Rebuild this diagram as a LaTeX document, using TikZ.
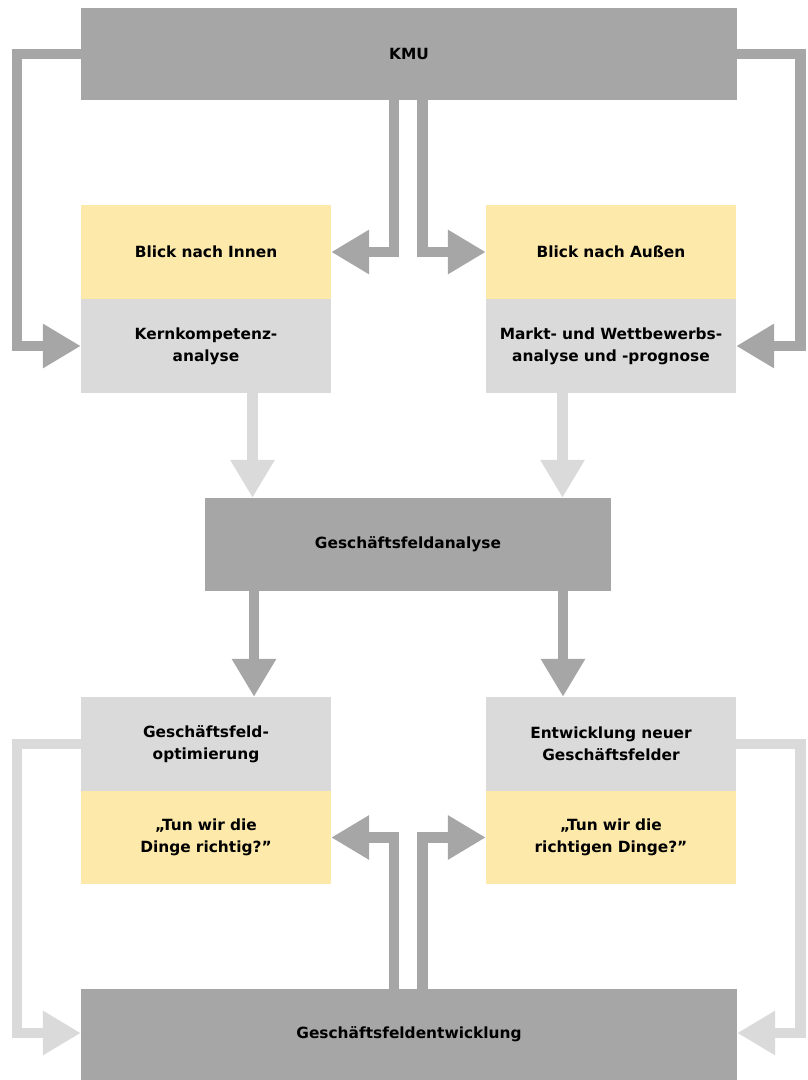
\documentclass[tikz,border=0pt]{standalone}
\usepackage{fontspec}
\setmainfont{DejaVu Sans}
\usetikzlibrary{arrows.meta}
\definecolor{dgray}{HTML}{A6A6A6}
\definecolor{lgray}{HTML}{DADADA}
\definecolor{lyel}{HTML}{FDE9AA}
\tikzset{
  box/.style={draw=none, inner sep=0pt, align=center, text width=245pt,
    font=\fontsize{15.4}{22}\selectfont\bfseries, text=black},
  wide/.style={box, minimum width=656pt, minimum height=92pt, fill=dgray, text width=600pt},
  small/.style={box, minimum width=250pt, minimum height=94pt},
  arrD/.style={draw=dgray, line width=10.5pt, line join=miter,
    -{Triangle[length=38pt,width=42pt]}},
  arrL/.style={arrD, draw=lgray}
}
\begin{document}
\begin{tikzpicture}[x=1pt,y=-1pt]
\useasboundingbox (0,0) rectangle (807,1080);
\node[wide] (kmu) at (409,54) {KMU};
\node[small, fill=lyel] (innen) at (206,252) {Blick nach Innen};
\node[small, fill=lgray] (kern) at (206,346) {Kernkompetenz-\\analyse};
\node[small, fill=lyel] (aussen) at (611,252) {Blick nach Außen};
\node[small, fill=lgray] (markt) at (611,346) {Markt- und Wettbewerbs-\\analyse und -prognose};
\node[box, fill=dgray, minimum width=406pt, minimum height=93pt] (gfa) at (408,544.5) {Geschäftsfeldanalyse};
\node[small, fill=lgray] (opt) at (206,744) {Geschäftsfeld-\\optimierung};
\node[small, fill=lyel, minimum height=93pt] (tun1) at (206,837.5) {„Tun wir die\\Dinge richtig?”};
\node[small, fill=lgray] (neu) at (611,744) {Entwicklung neuer\\Geschäftsfelder};
\node[small, fill=lyel, minimum height=93pt] (tun2) at (611,837.5) {„Tun wir die\\richtigen Dinge?”};
\node[wide, minimum height=91pt] (gfe) at (409,1034.5) {Geschäftsfeldentwicklung};

% top arrows
\coordinate (kl) at (17,54);
\coordinate (kr) at (800.5,54);
\draw[arrD] (kmu.west) -- (kl) |- (kern.west);
\draw[arrD] (kmu.east) -- (kr) |- (markt.east);
\draw[arrD] ([xshift=-15pt]kmu.south) |- (innen.east);
\draw[arrD] ([xshift=13.5pt]kmu.south) |- (aussen.west);
% to analysis
\draw[arrL] ([xshift=46.5pt]kern.south) -- ([xshift=46.5pt]kern.south |- gfa.north);
\draw[arrL] ([xshift=-48.5pt]markt.south) -- ([xshift=-48.5pt]markt.south |- gfa.north);
% from analysis
\draw[arrD] ([xshift=48pt]opt.north |- gfa.south) -- ([xshift=48pt]opt.north);
\draw[arrD] ([xshift=-48pt]neu.north |- gfa.south) -- ([xshift=-48pt]neu.north);
% bottom
\coordinate (bl) at (17,744);
\coordinate (br) at (800.5,744);
\draw[arrL] (opt.west) -- (bl) |- ([yshift=1.5pt]gfe.west);
\draw[arrL] (neu.east) -- (br) |- ([yshift=1.5pt]gfe.east);
\draw[arrD] ([xshift=-15pt]gfe.north) |- (tun1.east);
\draw[arrD] ([xshift=13.5pt]gfe.north) |- (tun2.west);
\end{tikzpicture}
\end{document}
